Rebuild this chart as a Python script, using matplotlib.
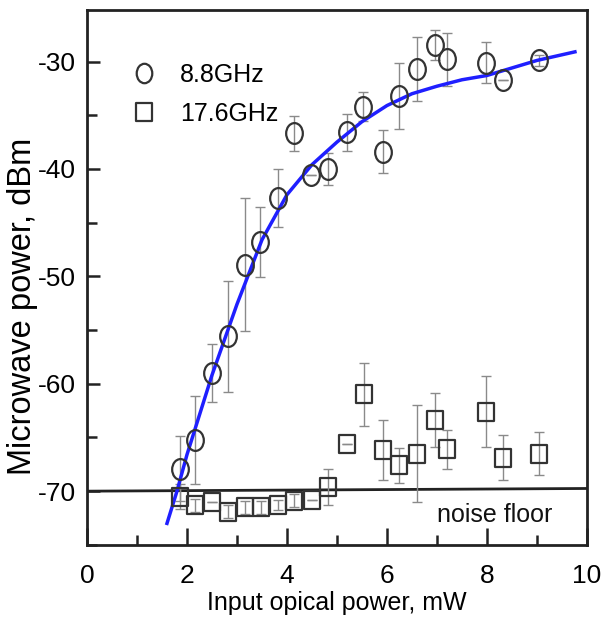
import numpy as np
import matplotlib
matplotlib.use("Agg")
import matplotlib.pyplot as plt
from matplotlib.path import Path
from matplotlib.transforms import Affine2D
from matplotlib.lines import Line2D

plt.rcParams['font.family'] = ['Liberation Sans', 'DejaVu Sans']
plt.rcParams['axes.unicode_minus'] = False

# 8.8 GHz data (circles)
x88 = [1.86, 2.16, 2.5, 2.82, 3.16, 3.46, 3.82, 4.14, 4.48, 4.82,
       5.2, 5.52, 5.92, 6.24, 6.6, 6.96, 7.2, 7.98, 8.32, 9.04]
y88 = [-67.9, -65.2, -59.0, -55.6, -48.9, -46.8, -42.7, -36.7, -40.6, -40.0,
       -36.6, -34.2, -38.4, -33.2, -30.7, -28.5, -29.8, -30.1, -31.7, -29.9]
e88 = [3.0, 4.1, 2.7, 5.2, 6.2, 3.3, 2.7, 1.6, 0.0, 1.5,
       1.7, 1.35, 2.0, 3.1, 3.0, 1.4, 2.5, 1.9, 0.0, 0.5]

# 17.6 GHz data (squares)
x176 = [1.86, 2.16, 2.5, 2.82, 3.16, 3.48, 3.82, 4.14, 4.5, 4.82,
        5.2, 5.54, 5.92, 6.24, 6.6, 6.96, 7.2, 7.98, 8.32, 9.04]
y176 = [-70.5, -71.3, -71.0, -71.9, -71.5, -71.5, -71.3, -70.9, -70.8, -69.6,
        -65.6, -61.0, -66.2, -67.6, -66.5, -63.4, -66.1, -62.6, -66.9, -66.5]
e176 = [1.2, 0.6, 0.0, 0.6, 0.6, 0.6, 0.5, 0.6, 0.0, 1.7,
        0.0, 2.9, 2.8, 1.6, 4.5, 2.5, 1.8, 3.3, 2.1, 2.0]

# fitted curve (blue)
fit_x = [1.6, 1.8, 2.0, 2.5, 3.0, 3.5, 4.0, 4.5, 5.0, 5.5, 6.0, 6.5,
         7.0, 7.5, 8.0, 8.5, 9.0, 9.76]
fit_y = [-73.0, -70.0, -66.6, -59.2, -52.6, -46.6, -42.4, -39.6, -37.5, -35.6,
         -34.1, -33.0, -32.3, -31.7, -31.3, -30.6, -29.9, -29.1]

# noise floor
floor_x = [0, 10]
floor_y = [-70.0, -69.75]

# slightly tall markers like in the picture
ell = Path.unit_circle().transformed(Affine2D().scale(0.8, 1.0))
sq = Path([(-0.45, -0.5), (0.45, -0.5), (0.45, 0.5), (-0.45, 0.5), (-0.45, -0.5)],
          [Path.MOVETO, Path.LINETO, Path.LINETO, Path.LINETO, Path.CLOSEPOLY])

fig = plt.figure(figsize=(6.02, 6.22), dpi=100)
ax = fig.add_axes([0.1445, 0.124, 0.8305, 0.86])

edge = '#333333'
ax.errorbar(x88, y88, yerr=e88, fmt='none', ecolor='#8a8a8a', elinewidth=1,
            capsize=3.5, capthick=1, zorder=2)
ax.errorbar(x176, y176, yerr=e176, fmt='none', ecolor='#8a8a8a', elinewidth=1,
            capsize=3.5, capthick=1, zorder=2)
ax.plot(floor_x, floor_y, color='#222222', lw=2, zorder=1)
ax.plot(fit_x, fit_y, color='#1f1fff', lw=2.5, zorder=3)
ax.plot(x88, y88, ls='none', marker=ell, ms=15, mfc='none', mec=edge, mew=1.6, zorder=4)
ax.plot(x176, y176, ls='none', marker=sq, ms=13, mfc='none', mec=edge, mew=1.6, zorder=4)

ax.text(7.0, -72.2, 'noise floor', fontsize=18, va='center', ha='left', color='#111111')

handles = [Line2D([], [], ls='none', marker=ell, ms=14, mfc='none', mec=edge, mew=1.6),
           Line2D([], [], ls='none', marker=sq, ms=13, mfc='none', mec=edge, mew=1.6)]
ax.legend(handles, ['8.8GHz', '17.6GHz'], loc='upper left', bbox_to_anchor=(0.064, 0.925),
          frameon=False, fontsize=18, handlelength=1.0, handletextpad=0.95,
          labelspacing=0.62, borderpad=0)

ax.set_xlim(0, 10)
ax.set_ylim(-75, -25.2)
ax.set_xticks([0, 2, 4, 6, 8, 10])
ax.set_xticks([1, 3, 5, 7, 9], minor=True)
ax.set_yticks([-70, -60, -50, -40, -30])
ax.set_yticks([-75, -65, -55, -45, -35], minor=True)
ax.tick_params(which='both', direction='in', labelsize=19, width=1.8, color='#222222')
ax.tick_params(axis='x', which='major', length=12, pad=14)
ax.tick_params(axis='x', which='minor', length=7)
ax.tick_params(axis='y', which='major', length=9, pad=8)
ax.tick_params(axis='y', which='minor', length=7)
for s in ax.spines.values():
    s.set_linewidth(2)
    s.set_color('#222222')

ax.set_xlabel('Input opical power, mW', fontsize=18)
ax.set_ylabel('Microwave power, dBm', fontsize=23.5)
ax.xaxis.set_label_coords(0.5, -0.086)
ax.yaxis.set_label_coords(-0.098, 0.445)

fig.savefig('out.png', dpi=100)
